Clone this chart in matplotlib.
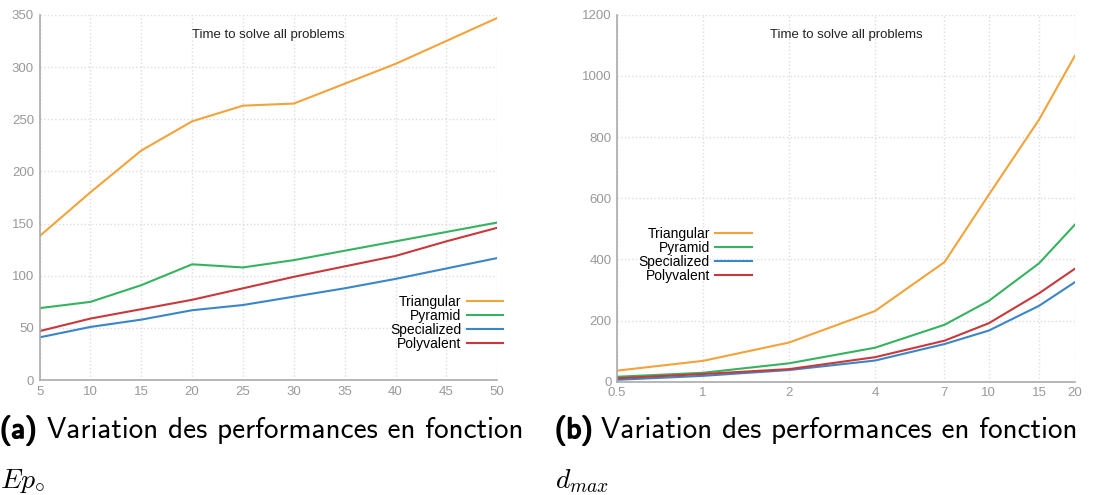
import matplotlib
matplotlib.use('Agg')
import matplotlib.pyplot as plt
import matplotlib.patheffects as pe
import numpy as np

# data
series_names = ['Triangular', 'Pyramid', 'Specialized', 'Polyvalent']
series_colors = ['#f2a33a', '#35b35f', '#3a86c8', '#c9393b']

ep_values = [5, 10, 15, 20, 25, 30, 35, 40, 45, 50]
ep_triangular = [138, 180, 220, 248, 263, 265, 284, 303, 325, 347]
ep_pyramid = [69, 75, 91, 111, 108, 115, 124, 133, 142, 151]
ep_specialized = [41, 51, 58, 67, 72, 80, 88, 97, 107, 117]
ep_polyvalent = [47, 59, 68, 77, 88, 99, 109, 119, 133, 146]

dmax_values = [0.5, 1, 2, 4, 7, 10, 15, 20]
dmax_triangular = [36, 68, 128, 231, 391, 611, 857, 1065]
dmax_pyramid = [16, 29, 60, 111, 186, 264, 387, 513]
dmax_specialized = [6, 19, 38, 69, 123, 167, 248, 325]
dmax_polyvalent = [11, 25, 41, 80, 134, 191, 289, 369]

dmax_ticklabels = ['0.5', '1', '2', '4', '7', '10', '15', '20']

grey = '#999999'

plt.rcParams['font.family'] = ['Liberation Sans', 'DejaVu Sans']
plt.rcParams['mathtext.fontset'] = 'cm'


def style_axes(ax):
    for side in ['top', 'right']:
        ax.spines[side].set_visible(False)
    for side in ['left', 'bottom']:
        ax.spines[side].set_color('#aaaaaa')
        ax.spines[side].set_linewidth(1.2)
    ax.tick_params(colors=grey, labelsize=9.5, length=0, pad=4)
    ax.grid(True, color='#dddddd', linestyle=':', linewidth=1)
    ax.set_axisbelow(True)
    ax.set_title('Time to solve all problems', fontsize=9.5, y=0.915,
                 color='#222222')


fig = plt.figure(figsize=(11, 4.95), dpi=100)

# left panel: Ep0
ax1 = fig.add_axes([0.036, 0.232, 0.416, 0.738])
for name, vals, col in zip(series_names,
                           [ep_triangular, ep_pyramid, ep_specialized, ep_polyvalent],
                           series_colors):
    ax1.plot(ep_values, vals, color=col, lw=1.5, label=name)
ax1.set_xlim(5, 50)
ax1.set_ylim(0, 350)
ax1.set_xticks(ep_values)
ax1.set_yticks(np.arange(0, 351, 50))
style_axes(ax1)
ax1.legend(loc='lower right', bbox_to_anchor=(1.04, 0.045), frameon=False,
           markerfirst=False, fontsize=10, handlelength=2.6,
           labelspacing=0.0, handletextpad=0.4)

# right panel: dmax (log x)
ax2 = fig.add_axes([0.561, 0.229, 0.416, 0.741])
for name, vals, col in zip(series_names,
                           [dmax_triangular, dmax_pyramid, dmax_specialized, dmax_polyvalent],
                           series_colors):
    ax2.plot(dmax_values, vals, color=col, lw=1.5, label=name)
ax2.set_xscale('log')
ax2.set_xlim(0.5, 20)
ax2.set_ylim(0, 1200)
ax2.set_xticks(dmax_values)
ax2.set_xticklabels(dmax_ticklabels)
ax2.minorticks_off()
ax2.set_yticks(np.arange(0, 1201, 200))
style_axes(ax2)
ax2.legend(loc='upper left', bbox_to_anchor=(0.02, 0.456), frameon=False,
           markerfirst=False, fontsize=10, handlelength=2.6,
           labelspacing=0.0, handletextpad=0.4)

# captions (LaTeX-like sans)
bold = [pe.withStroke(linewidth=1.2, foreground='black')]
fig.text(0.0, 0.13, '(a)', fontsize=21, family='cmss10', va='center', path_effects=bold)
fig.text(0.0425, 0.13, 'Variation des performances en fonction', fontsize=21,
         family='cmss10', va='center')
fig.text(0.0, 0.028, r'$Ep_{\circ}$', fontsize=20, va='center')
fig.text(0.5045, 0.13, '(b)', fontsize=21, family='cmss10', va='center', path_effects=bold)
fig.text(0.546, 0.13, 'Variation des performances en fonction', fontsize=21,
         family='cmss10', va='center')
fig.text(0.5045, 0.028, r'$d_{max}$', fontsize=20, va='center')

fig.savefig('out.png', dpi=100)
